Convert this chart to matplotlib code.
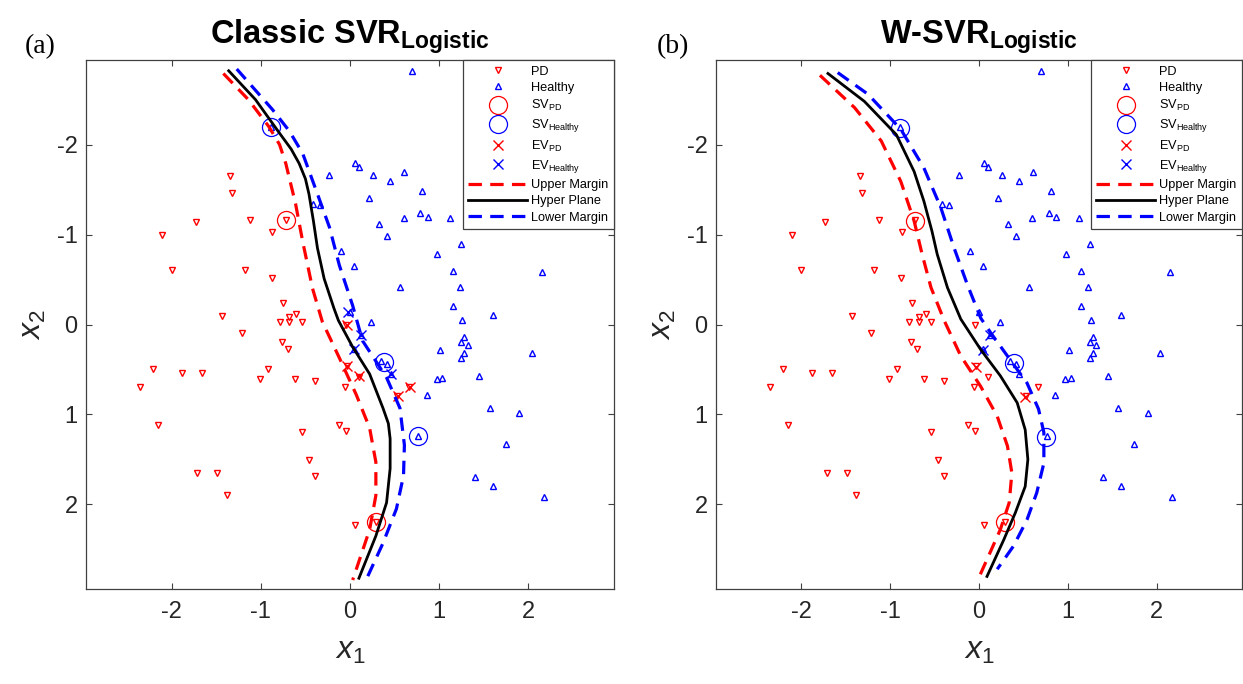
import matplotlib
matplotlib.use("Agg")
import matplotlib.pyplot as plt

plt.rcParams['font.family'] = ['Liberation Sans', 'DejaVu Sans']
plt.rcParams['mathtext.fontset'] = 'custom'
plt.rcParams['mathtext.rm'] = 'Liberation Sans'
plt.rcParams['mathtext.it'] = 'Liberation Sans:italic'
plt.rcParams['mathtext.bf'] = 'Liberation Sans:bold'
plt.rcParams['axes.unicode_minus'] = False

# ---------------- data ----------------
pd_x = [-1.34, -1.32, -1.73, -1.12, -0.72, -0.87, -2.11, -2.00, -1.18, -0.88,
        -0.75, -1.43, -0.79, -0.68, -0.68, -0.60, -0.54, -0.04, -1.21, -0.76,
        -0.70, -2.21, -1.88, -1.66, -2.35, -0.92, -1.01, -0.62, -0.39, -0.06,
        -0.03, 0.10, 0.53, 0.66, -2.15, -0.54, -0.12, -0.05, -0.46, -0.39,
        -1.71, -1.49, -1.38, 0.06, 0.29]
pd_y = [-1.65, -1.46, -1.14, -1.16, -1.16, -1.03, -1.00, -0.61, -0.61, -0.52,
        -0.24, -0.10, -0.03, -0.08, -0.03, -0.12, -0.03, 0.00, 0.10, 0.19,
        0.27, 0.49, 0.54, 0.54, 0.69, 0.50, 0.61, 0.61, 0.63, 0.70,
        0.46, 0.58, 0.80, 0.70, 1.12, 1.19, 1.12, 1.18, 1.51, 1.68,
        1.65, 1.65, 1.90, 2.23, 2.19]

healthy_x = [0.70, -0.89, 0.06, 0.105, -0.23, 0.26, 0.45, 0.61, 0.81, 0.21,
             -0.42, -0.34, 0.79, 0.87, 0.60, 1.12, 0.33, 0.42, 1.25, -0.105,
             0.98, 0.045, 1.15, 2.15, 0.56, 1.23, 1.15, 1.26, 0.24, 1.60,
             0.00, 1.28, 1.25, 1.32, 1.28, 1.25, 1.01, 2.04, 0.35, 0.42,
             0.455, 0.12, 0.05, 0.97, 1.03, 1.45, 0.86, 1.57, 1.90, 0.76,
             1.75, 1.40, 1.60, 2.17]
healthy_y = [-2.82, -2.19, -1.80, -1.75, -1.66, -1.66, -1.60, -1.70, -1.48, -1.41,
             -1.34, -1.33, -1.24, -1.19, -1.18, -1.18, -1.12, -0.98, -0.90, -0.82,
             -0.78, -0.65, -0.59, -0.58, -0.42, -0.42, -0.21, -0.045, -0.03, -0.11,
             -0.14, 0.14, 0.20, 0.23, 0.32, 0.37, 0.28, 0.32, 0.41, 0.44,
             0.55, 0.12, 0.27, 0.61, 0.60, 0.57, 0.78, 0.93, 0.98, 1.24,
             1.33, 1.70, 1.80, 1.92]

# panel (a) Classic SVR
sv_pd_a_x = [-0.72, 0.29]
sv_pd_a_y = [-1.16, 2.19]
sv_h_a_x = [-0.89, 0.38, 0.76]
sv_h_a_y = [-2.19, 0.42, 1.24]
ev_pd_a_x = [-0.03, -0.03, 0.10, 0.54, 0.67]
ev_pd_a_y = [0.00, 0.46, 0.57, 0.79, 0.69]
ev_h_a_x = [-0.02, 0.12, 0.05, 0.455]
ev_h_a_y = [-0.14, 0.12, 0.27, 0.55]

hyper_a_x = [-1.36, -1.06, -0.80, -0.66, -0.57, -0.50, -0.46, -0.41, -0.365, -0.29, -0.18, -0.13,
             0.03, 0.22, 0.37, 0.43, 0.45, 0.45, 0.41, 0.29, 0.10]
hyper_a_y = [-2.82, -2.50, -2.14, -1.95, -1.79, -1.62, -1.45, -1.15, -0.85, -0.51, -0.18, -0.045,
             0.25, 0.55, 0.93, 1.10, 1.27, 1.60, 1.98, 2.35, 2.82]
upper_a_x = [-1.42, -1.14, -0.91, -0.79, -0.72, -0.61, -0.53, -0.42, -0.31, -0.12, 0.07,
             0.22, 0.29, 0.29, 0.22, 0.03]
upper_a_y = [-2.79, -2.50, -2.20, -2.00, -1.79, -1.34, -0.92, -0.40, -0.03, 0.37, 0.78,
             1.15, 1.53, 1.90, 2.28, 2.84]
lower_a_x = [-1.27, -0.87, -0.68, -0.53, -0.35, -0.23, -0.12, 0.03, 0.14, 0.41,
             0.56, 0.61, 0.60, 0.52, 0.37, 0.18]
lower_a_y = [-2.84, -2.39, -2.15, -1.90, -1.41, -1.08, -0.66, -0.21, 0.18, 0.59,
             0.93, 1.34, 1.68, 2.05, 2.43, 2.84]

# panel (b) W-SVR
sv_pd_b_x = [-0.72, 0.29]
sv_pd_b_y = [-1.15, 2.20]
sv_h_b_x = [-0.885, 0.39, 0.75]
sv_h_b_y = [-2.18, 0.43, 1.25]
ev_pd_b_x = [-0.03, 0.52]
ev_pd_b_y = [0.47, 0.81]
ev_h_b_x = [0.12, 0.05]
ev_h_b_y = [0.12, 0.28]

hyper_b_x = [-1.70, -1.29, -0.93, -0.73, -0.62, -0.53, -0.47, -0.355, -0.205,
             0.02, 0.24, 0.43, 0.52, 0.55, 0.52, 0.41, 0.28, 0.09]
hyper_b_y = [-2.79, -2.48, -2.11, -1.70, -1.37, -1.04, -0.78, -0.41, -0.06,
             0.28, 0.57, 0.87, 1.17, 1.50, 1.80, 2.09, 2.39, 2.80]
upper_b_x = [-1.79, -1.40, -1.10, -0.88, -0.73, -0.64, -0.54, -0.39, -0.205,
             0.02, 0.205, 0.32, 0.37, 0.34, 0.24, 0.00]
upper_b_y = [-2.77, -2.41, -2.04, -1.59, -1.15, -0.78, -0.41, -0.04, 0.35,
             0.69, 1.02, 1.35, 1.65, 1.98, 2.28, 2.81]
lower_b_x = [-1.59, -1.25, -0.88, -0.62, -0.43, -0.28, -0.13, 0.02, 0.13,
             0.32, 0.54, 0.67, 0.73, 0.73, 0.65, 0.54, 0.39, 0.205]
lower_b_y = [-2.80, -2.56, -2.17, -1.74, -1.30, -0.85, -0.44, -0.07, 0.09,
             0.35, 0.65, 0.94, 1.20, 1.54, 1.87, 2.17, 2.46, 2.72]

xticks = [-2, -1, 0, 1, 2]
yticks = [-2, -1, 0, 1, 2]
titles = [r'Classic SVR$_{\mathbf{Logistic}}$', r'W-SVR$_{\mathbf{Logistic}}$']
panel_tags = ['(a)', '(b)']
legend_labels = ['PD', 'Healthy', r'SV$_{\mathrm{PD}}$', r'SV$_{\mathrm{Healthy}}$',
                 r'EV$_{\mathrm{PD}}$', r'EV$_{\mathrm{Healthy}}$',
                 'Upper Margin', 'Hyper Plane', 'Lower Margin']

# ---------------- figure ----------------
W, H = 1243, 684
fig = plt.figure(figsize=(W / 100, H / 100), dpi=100)

axes_px = [(86, 60, 528, 529), (716, 60, 526, 529)]
tag_px = [(25, 47), (657, 47)]

panels = [
    dict(sv_pd=(sv_pd_a_x, sv_pd_a_y), sv_h=(sv_h_a_x, sv_h_a_y),
         ev_pd=(ev_pd_a_x, ev_pd_a_y), ev_h=(ev_h_a_x, ev_h_a_y),
         upper=(upper_a_x, upper_a_y), hyper=(hyper_a_x, hyper_a_y),
         lower=(lower_a_x, lower_a_y)),
    dict(sv_pd=(sv_pd_b_x, sv_pd_b_y), sv_h=(sv_h_b_x, sv_h_b_y),
         ev_pd=(ev_pd_b_x, ev_pd_b_y), ev_h=(ev_h_b_x, ev_h_b_y),
         upper=(upper_b_x, upper_b_y), hyper=(hyper_b_x, hyper_b_y),
         lower=(lower_b_x, lower_b_y)),
]

txtc = '#262626'
for i, p in enumerate(panels):
    l, t, w, h = axes_px[i]
    ax = fig.add_axes([l / W, 1 - (t + h) / H, w / W, h / H])
    ax.plot(pd_x, pd_y, 'v', ms=4.5, mfc='none', mec='red', mew=1.0, ls='none')
    ax.plot(healthy_x, healthy_y, '^', ms=4.5, mfc='none', mec='blue', mew=1.0, ls='none')
    ax.plot(*p['sv_pd'], 'o', ms=13, mfc='none', mec='red', mew=0.9, ls='none')
    ax.plot(*p['sv_h'], 'o', ms=13, mfc='none', mec='blue', mew=0.9, ls='none')
    ax.plot(*p['ev_pd'], 'x', ms=7, mec='red', mew=1.0, ls='none')
    ax.plot(*p['ev_h'], 'x', ms=7, mec='blue', mew=1.0, ls='none')
    ax.plot(*p['upper'], color='red', lw=2.3, ls=(0, (4.2, 2.6)))
    ax.plot(*p['hyper'], color='black', lw=2.0, ls='-')
    ax.plot(*p['lower'], color='blue', lw=2.3, ls=(0, (4.2, 2.6)))

    ax.set_xlim(-2.96, 2.96)
    ax.set_ylim(2.94, -2.94)
    ax.set_xticks(xticks)
    ax.set_yticks(yticks)
    ax.tick_params(direction='in', length=4, width=0.8, top=True, right=True,
                   labelsize=17, colors='#404040', labelcolor=txtc)
    ax.tick_params(axis='x', pad=9)
    ax.tick_params(axis='y', pad=6)
    for s in ax.spines.values():
        s.set_color('#404040')
        s.set_linewidth(0.9)
    ax.set_xlabel(r'$x_1$', fontsize=23, color=txtc, labelpad=9)
    ax.set_ylabel(r'$x_2$', fontsize=23, color=txtc, labelpad=6)
    ax.set_title(titles[i], fontsize=23.5, fontweight='bold', color='black', pad=12)

    leg = ax.legend(legend_labels, loc='upper right', borderaxespad=0,
                    fontsize=9.2, handlelength=4.6, handletextpad=0.3,
                    labelspacing=0.33, borderpad=0.45, fancybox=False,
                    framealpha=1, edgecolor='#404040')
    leg.get_frame().set_linewidth(0.9)

    tx, ty = tag_px[i]
    fig.text(tx / W, 1 - ty / H, panel_tags[i], fontsize=20,
             family=['Liberation Serif', 'DejaVu Serif'], va='center', ha='left')

fig.savefig('out.png', dpi=100)
